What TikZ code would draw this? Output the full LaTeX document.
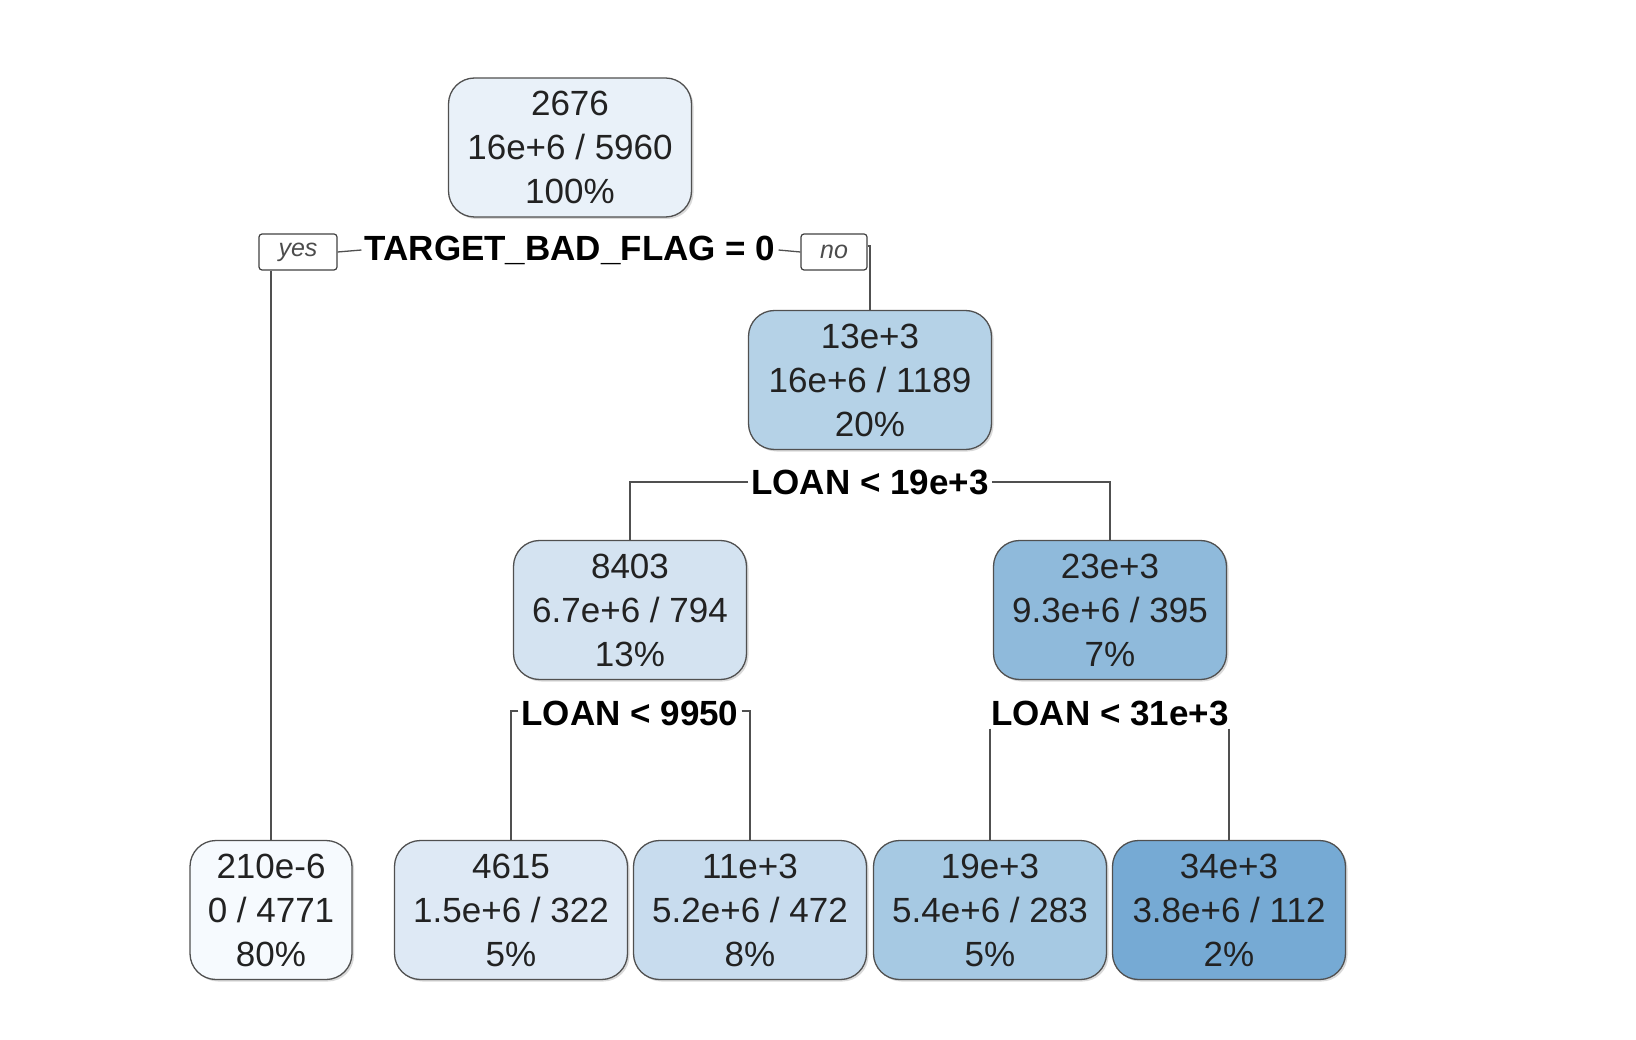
\documentclass[tikz,border=0pt]{standalone}
\usepackage{fontspec}
\setmainfont{Liberation Sans}
\usetikzlibrary{shadows}
\definecolor{cRoot}{HTML}{E9F1F9}
\definecolor{cN2}{HTML}{B5D2E7}
\definecolor{cN3}{HTML}{D4E3F1}
\definecolor{cN4}{HTML}{8FBADB}
\definecolor{cL1}{HTML}{F6FAFE}
\definecolor{cL2}{HTML}{DEE9F5}
\definecolor{cL3}{HTML}{C8DCEE}
\definecolor{cL4}{HTML}{A6C9E3}
\definecolor{cL5}{HTML}{76AAD4}
\definecolor{edge}{HTML}{505050}
\definecolor{txt}{HTML}{222222}
\tikzset{
  treenode/.style={draw=edge, line width=1.3pt, rounded corners=26pt,
    minimum width=233pt, minimum height=139pt, align=center, text=txt,
    inner sep=0pt, font=\fontsize{35}{44}\selectfont,
    drop shadow={shadow xshift=2pt, shadow yshift=-2pt, opacity=0.25, fill=black!60}},
  splitlabel/.style={font=\fontsize{35}{42}\selectfont\bfseries, inner sep=3pt, text=black},
  yesno/.style={draw=edge!80!black, line width=1.2pt, rounded corners=3pt, minimum height=36pt,
    inner sep=0pt, text=black!70, font=\fontsize{25}{30}\selectfont\itshape},
  conn/.style={draw=edge, line width=1.3pt}
}
\begin{document}
\begin{tikzpicture}[x=1pt, y=-1pt]
\useasboundingbox (0,0) rectangle (1636,1040);
% nodes
\node[treenode, fill=cRoot, minimum width=243pt] (root) at (570,147.5) {2676\\16e+6 / 5960\\100\%};
\node[treenode, fill=cN2, minimum width=243pt] (n2) at (870,380) {13e+3\\16e+6 / 1189\\20\%};
\node[treenode, fill=cN3] (n3) at (630,610) {8403\\6.7e+6 / 794\\13\%};
\node[treenode, fill=cN4] (n4) at (1110,610) {23e+3\\9.3e+6 / 395\\7\%};
\node[treenode, fill=cL1, minimum width=162pt] (l1) at (271,910) {210e-6\\0 / 4771\\80\%};
\node[treenode, fill=cL2] (l2) at (511,910) {4615\\1.5e+6 / 322\\5\%};
\node[treenode, fill=cL3] (l3) at (750,910) {11e+3\\5.2e+6 / 472\\8\%};
\node[treenode, fill=cL4] (l4) at (990,910) {19e+3\\5.4e+6 / 283\\5\%};
\node[treenode, fill=cL5] (l5) at (1229,910) {34e+3\\3.8e+6 / 112\\2\%};
% split labels
\node[splitlabel] (s1) at (570,250) {TARGET\_BAD\_FLAG = 0};
\node[yesno, minimum width=78pt] (yes) at (298,252) {yes};
\node[yesno, minimum width=66pt] (no) at (834,252) {no};
\node[splitlabel] (s2) at (870,482) {LOAN < 19e+3};
\node[splitlabel] (s3) at (630,713) {LOAN < 9950};
\node[splitlabel] (s4) at (1110,713) {LOAN < 31e+3};
% connectors
\draw[conn] (yes.east) -- (s1.west);
\draw[conn] (s1.east) -- (no.west);
\draw[conn] (l1.north |- yes.south) -- (l1.north);
\draw[conn] ([yshift=6pt]no.east) -| (n2.north);
\draw[conn] (s2.west) -| (n3.north);
\draw[conn] (s2.east) -| (n4.north);
\draw[conn] ([yshift=2pt]s3.west) -| (l2.north);
\draw[conn] ([yshift=2pt]s3.east) -| (l3.north);
\draw[conn] (l4.north |- s4.south) -- (l4.north);
\draw[conn] (l5.north |- s4.south) -- (l5.north);
\end{tikzpicture}
\end{document}
